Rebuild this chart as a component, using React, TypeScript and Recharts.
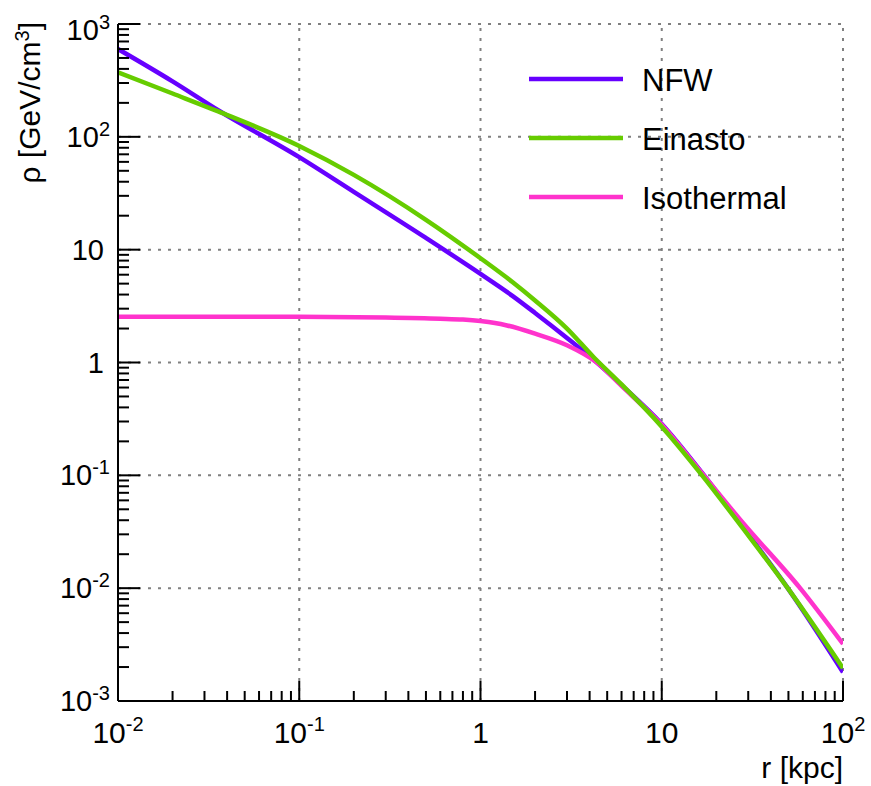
import React from 'react';
import { LineChart, Line, XAxis, YAxis, ReferenceLine, Legend } from 'recharts';

// radius [kpc] and density [GeV/cm^3]
const R_NFW = [0.01, 0.02, 0.0357, 0.1, 0.2, 0.5, 1, 1.5, 2, 3, 4.2, 6, 10, 16.7, 28, 50, 100];
const RHO_NFW = [600, 310, 172, 66, 32.5, 12.7, 6.1, 3.9, 2.75, 1.65, 1.06, 0.63, 0.285, 0.105, 0.035, 0.0098, 0.0018];

const R_EIN = [0.01, 0.02, 0.0357, 0.1, 0.2, 0.5, 1, 1.5, 2, 3, 4.2, 6, 10, 16.7, 28, 50, 100];
const RHO_EIN = [373, 242, 168, 83, 46, 18.4, 8.4, 5.17, 3.55, 2.0, 1.12, 0.64, 0.27, 0.1, 0.034, 0.0098, 0.00195];

const R_ISO = [0.01, 0.1, 0.3, 0.6, 0.8, 1, 1.2, 1.4, 2, 3, 4.38, 6, 10, 16.7, 28, 58, 100];
const RHO_ISO = [2.55, 2.54, 2.5, 2.44, 2.4, 2.33, 2.24, 2.13, 1.8, 1.42, 1.0, 0.62, 0.28, 0.104, 0.038, 0.01, 0.0032];

const X_MAJOR = [0.01, 0.1, 1, 10, 100];
const Y_MAJOR = [0.001, 0.01, 0.1, 1, 10, 100, 1000];
const MINOR_STEPS = [2, 3, 4, 5, 6, 7, 8, 9];
const X_LABELS = [['10', '-2'], ['10', '-1'], ['1', ''], ['10', ''], ['10', '2']];
const Y_LABELS = [['10', '-3'], ['10', '-2'], ['10', '-1'], ['1', ''], ['10', ''], ['10', '2'], ['10', '3']];

const FONT = '"Liberation Sans", Arial, Helvetica, sans-serif';

const toRows = (r: number[], rho: number[]) => r.map((v, i) => ({ r: v, rho: rho[i] }));

const SERIES = [
  { name: 'NFW', color: '#6600ff', data: toRows(R_NFW, RHO_NFW) },
  { name: 'Einasto', color: '#66cc00', data: toRows(R_EIN, RHO_EIN) },
  { name: 'Isothermal', color: '#ff33cc', data: toRows(R_ISO, RHO_ISO) },
];
// green is drawn on top, pink over purple
const DRAW_ORDER = ['NFW', 'Isothermal', 'Einasto'];

const withMinors = (majors: number[]) => {
  const out: number[] = [];
  majors.forEach((m, i) => {
    out.push(m);
    if (i < majors.length - 1) MINOR_STEPS.forEach((s) => out.push(+(m * s).toPrecision(6)));
  });
  return out;
};

const majorIndex = (majors: number[], v: number) =>
  majors.findIndex((m) => Math.abs(m - v) < m * 1e-6);

function XTick({ x, y, payload }: any) {
  const idx = majorIndex(X_MAJOR, payload.value);
  if (idx < 0) return <line x1={x} x2={x} y1={y} y2={y - 10} stroke="#000" strokeWidth={2} />;
  const [base, sup] = X_LABELS[idx];
  return (
    <g>
      <line x1={x} x2={x} y1={y} y2={y - 20} stroke="#000" strokeWidth={2} />
      <text x={x} y={y + 42} textAnchor="middle" fontSize={30} fontFamily={FONT} fill="#000">
        <tspan>{base}</tspan>
        {sup && <tspan dy={-12} fontSize={20}>{sup}</tspan>}
      </text>
    </g>
  );
}

function YTick({ x, y, payload }: any) {
  const idx = majorIndex(Y_MAJOR, payload.value);
  if (idx < 0) return <line x1={x} x2={x + 11} y1={y} y2={y} stroke="#000" strokeWidth={2} />;
  const [base, sup] = Y_LABELS[idx];
  const shift = payload.value === 1000 ? 6 : 0;
  return (
    <g>
      <line x1={x} x2={x + 22} y1={y} y2={y} stroke="#000" strokeWidth={2} />
      <text x={sup ? x - 8 : x - 14} y={y + 10 + shift} textAnchor="end" fontSize={29} fontFamily={FONT} fill="#000">
        <tspan>{base}</tspan>
        {sup && <tspan dy={-11} fontSize={20}>{sup}</tspan>}
      </text>
    </g>
  );
}

function XTitle() {
  return (
    <text x={843} y={778} textAnchor="end" fontSize={30} fontFamily={FONT} fill="#000">
      r [kpc]
    </text>
  );
}

function YTitle() {
  return (
    <text transform="translate(40,22) rotate(-90)" textAnchor="end" fontSize={30} fontFamily={FONT} fill="#000">
      <tspan>ρ [GeV/cm</tspan>
      <tspan dy={-11} fontSize={20}>3</tspan>
      <tspan dy={11}>]</tspan>
    </text>
  );
}

function LegendBox() {
  return (
    <svg width={871} height={786} style={{ position: 'absolute', left: 0, top: 0, pointerEvents: 'none' }}>
      {SERIES.map((s, i) => {
        const cy = 79 + i * 59;
        return (
          <g key={s.name}>
            <line x1={529} x2={623} y1={cy} y2={cy} stroke={s.color} strokeWidth={4.5} />
            <text x={642} y={cy + 12} fontSize={31} fontFamily={FONT} fill="#000">{s.name}</text>
          </g>
        );
      })}
    </svg>
  );
}

const gridProps = { stroke: '#808080', strokeDasharray: '3 7', strokeWidth: 2, ifOverflow: 'visible' as const };

export default function App() {
  return (
    <div style={{ position: 'absolute', left: 0, top: 0, width: 871, height: 786, background: '#fff' }}>
      <LineChart width={871} height={786} margin={{ top: 24, right: 28, bottom: 0, left: 0 }}>
        {X_MAJOR.slice(1).map((v) => (
          <ReferenceLine key={`gx${v}`} x={v} {...gridProps} />
        ))}
        {Y_MAJOR.slice(1).map((v) => (
          <ReferenceLine key={`gy${v}`} y={v} {...gridProps} />
        ))}
        <XAxis
          type="number"
          dataKey="r"
          scale="log"
          domain={[0.01, 100]}
          allowDataOverflow
          ticks={withMinors(X_MAJOR)}
          interval={0}
          tick={<XTick />}
          tickLine={false}
          tickSize={0}
          tickMargin={0}
          axisLine={{ stroke: '#000', strokeWidth: 2 }}
          height={85}
          label={<XTitle />}
        />
        <YAxis
          type="number"
          scale="log"
          domain={[0.001, 1000]}
          allowDataOverflow
          ticks={withMinors(Y_MAJOR)}
          interval={0}
          tick={<YTick />}
          tickLine={false}
          tickSize={0}
          tickMargin={0}
          axisLine={{ stroke: '#000', strokeWidth: 2 }}
          width={118}
          label={<YTitle />}
        />
        {DRAW_ORDER.map((n) => {
          const s = SERIES.find((q) => q.name === n)!;
          return (
            <Line
              key={s.name}
              name={s.name}
              data={s.data}
              dataKey="rho"
              type="monotone"
              stroke={s.color}
              strokeWidth={4.5}
              dot={false}
              activeDot={false}
              isAnimationActive={false}
            />
          );
        })}
        <Legend
          layout="vertical"
          align="center"
          verticalAlign="middle"
          wrapperStyle={{ left: 0, top: 0, width: 0, height: 0 }}
          content={() => <LegendBox />}
        />
      </LineChart>
    </div>
  );
}
